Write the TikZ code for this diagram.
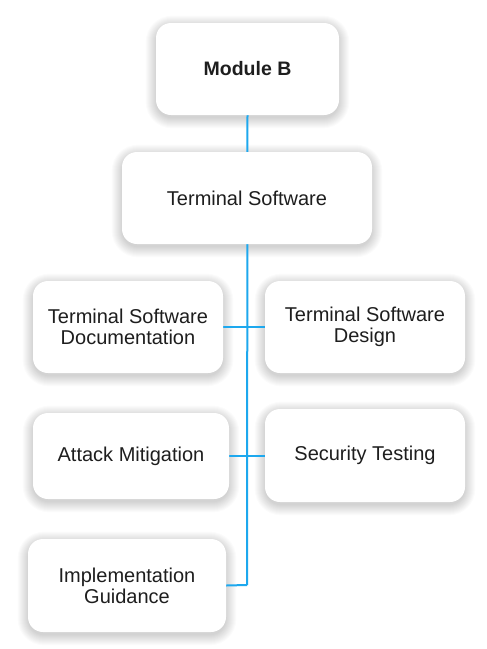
\documentclass[tikz,border=0pt]{standalone}
\usepackage{fontspec}
\setmainfont{Liberation Sans}
\usetikzlibrary{backgrounds,calc}
\definecolor{linkblue}{HTML}{1DA8EE}
\definecolor{txt}{HTML}{1E1E1E}
\tikzset{
  card/.style={fill=white, rounded corners=15pt, text=txt, align=center,
    font=\fontsize{20}{21}\selectfont},
  link/.style={draw=linkblue, line width=2pt},
  shadowlayer/.style={fill=black, fill opacity=0.014}
}
\begin{document}
\begin{tikzpicture}[x=1pt,y=-1pt]
\useasboundingbox (0,0) rectangle (487,649);
% cards
\node[card, minimum width=183pt, minimum height=92pt, font=\fontsize{19.5}{21}\selectfont\bfseries] (mb) at (247.5,69) {Module B};
\node[card, minimum width=250pt, minimum height=92pt] (ts) at (247,198) {Terminal Software};
\node[card, minimum width=190pt, minimum height=92pt] (doc) at (128,327) {Terminal Software\\Documentation};
\node[card, minimum width=200pt, minimum height=92pt] (des) at (365,327) {Terminal Software\\Design};
\node[card, minimum width=196pt, minimum height=86pt] (am) at (131,456) {Attack Mitigation};
\node[card, minimum width=200pt, minimum height=93pt] (st) at (365,455.5) {Security Testing};
\node[card, minimum width=198pt, minimum height=93pt] (ig) at (127,585.5) {Implementation\\Guidance};
\begin{pgfonlayer}{background}
\fill[white] (0,0) rectangle (487,649);
% soft shadows
\foreach \n in {mb,ts,doc,des,am,st,ig}{
  \foreach \i in {1,...,11}{
    \fill[shadowlayer, rounded corners={15pt+\i pt}]
      ($(\n.north west)+(-\i+1,-\i+4)$) rectangle ($(\n.south east)+(\i-1,\i+2)$);
  }
}
% connectors
\coordinate (top) at (247,115);
\coordinate (bot) at (247,585);
\draw[link] (mb.south) -- (bot);
\draw[link] (ig.east) -- (bot);
\draw[link] (doc.east) -- (des.west);
\draw[link] (am.east) -- (st.west |- am.east);
\end{pgfonlayer}
\end{tikzpicture}
\end{document}
